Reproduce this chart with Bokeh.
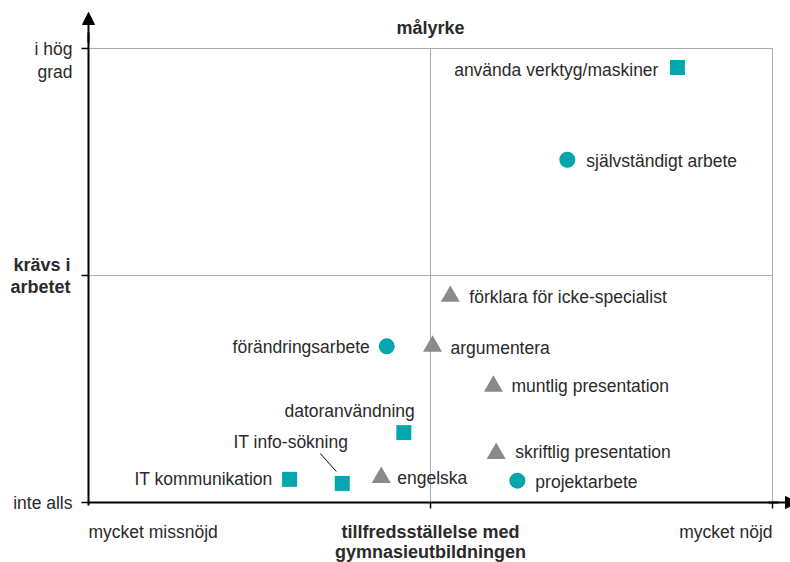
from bokeh.plotting import figure
from bokeh.models import Range1d, Arrow, NormalHead, ColumnDataSource
from bokeh.core.properties import value
from bokeh.embed import file_html
from bokeh.resources import INLINE

# ---- data ----
names = ["använda verktyg/maskiner", "självständigt arbete", "förklara för icke-specialist",
         "förändringsarbete", "argumentera", "muntlig presentation", "datoranvändning",
         "IT info-sökning", "skriftlig presentation", "IT kommunikation", "engelska", "projektarbete"]
satisfaction = [8.61, 7.00, 5.29, 4.36, 5.03, 5.92, 4.61, 3.71, 5.96, 2.94, 4.28, 6.27]
required = [9.58, 7.55, 4.54, 3.44, 3.44, 2.56, 1.54, 0.42, 1.08, 0.51, 0.55, 0.48]
group = ["square", "circle", "triangle", "circle", "triangle", "triangle", "square",
         "square", "triangle", "square", "triangle", "circle"]
y_ticks = [0, 5, 10]
x_ticks = [0, 5, 10]
title_top = "målyrke"
x_title = ["tillfredsställelse med", "gymnasieutbildningen"]
y_title = ["krävs i", "arbetet"]
x_low, x_high = "mycket missnöjd", "mycket nöjd"
y_low, y_high = "inte alls", ["i hög", "grad"]

# ---- layout ----
W, H = 790, 562
X0, Y0 = 88, 502          # px (from left / from top) of data origin
SX, SY = 68.4, 45.4       # px per unit
xr = Range1d(-X0 / SX, (W - X0) / SX)
yr = Range1d(-(H - Y0) / SY, Y0 / SY)

p = figure(width=W, height=H, x_range=xr, y_range=yr, output_backend="svg",
           toolbar_location=None, min_border=0)
p.axis.visible = False
p.grid.visible = False
p.outline_line_color = None

def px(dx):
    return dx / SX

def py(dy):
    return dy / SY

FONT = value("Liberation Sans")
FS = "17.5px"
FSB = "18px"
TC = "#2a2a2a"
GRID = "#ababab"

# grid / box
p.segment(x0=[x_ticks[0], x_ticks[0]], y0=[y_ticks[2], y_ticks[1]],
          x1=[x_ticks[2], x_ticks[2]], y1=[y_ticks[2], y_ticks[1]], line_color=GRID, line_width=1)
p.segment(x0=[x_ticks[1], x_ticks[2]], y0=[y_ticks[0], y_ticks[0]],
          x1=[x_ticks[1], x_ticks[2]], y1=[y_ticks[2], y_ticks[2]], line_color=GRID, line_width=1)

# axes
p.segment(x0=[0], y0=[-py(3)], x1=[0], y1=[py(470)], line_color="black", line_width=2)
p.segment(x0=[0], y0=[0], x1=[px(690)], y1=[0], line_color="black", line_width=2)
p.add_layout(Arrow(end=NormalHead(size=12, fill_color="black", line_color="black"),
                   x_start=0, y_start=py(460), x_end=0, y_end=py(490),
                   line_color="black", line_width=2))
p.add_layout(Arrow(end=NormalHead(size=12, fill_color="black", line_color="black"),
                   x_start=px(680), y_start=0, x_end=px(709), y_end=0,
                   line_color="black", line_width=2))
# ticks
p.segment(x0=[-px(7)] * 3, y0=y_ticks, x1=[0] * 3, y1=y_ticks, line_color="black", line_width=1.5)
p.segment(x0=x_ticks[1:], y0=[0, 0], x1=x_ticks[1:], y1=[-py(6)] * 2, line_color="black", line_width=1.5)

# axis texts
p.text(x=[5], y=[10 + py(21)], text=[title_top], text_font=FONT, text_font_style="bold",
       text_font_size=FSB, text_align="center", text_baseline="middle", text_color=TC)
p.text(x=[-px(16)] * 2, y=[10, 10 - py(23)], text=y_high, text_font=FONT, text_font_size=FS,
       text_align="right", text_baseline="middle", text_color=TC)
p.text(x=[-px(18)] * 2, y=[5 + py(11), 5 - py(11)], text=y_title, text_font=FONT,
       text_font_style="bold", text_font_size=FSB, text_align="right",
       text_baseline="middle", text_color=TC)
p.text(x=[-px(16)], y=[0], text=[y_low], text_font=FONT, text_font_size=FS,
       text_align="right", text_baseline="middle", text_color=TC)
p.text(x=[0], y=[-py(29)], text=[x_low], text_font=FONT, text_font_size=FS,
       text_align="left", text_baseline="middle", text_color=TC)
p.text(x=[10], y=[-py(29)], text=[x_high], text_font=FONT, text_font_size=FS,
       text_align="right", text_baseline="middle", text_color=TC)
p.text(x=[5, 5], y=[-py(29), -py(49)], text=x_title, text_font=FONT, text_font_style="bold",
       text_font_size=FSB, text_align="center", text_baseline="middle", text_color=TC)

# markers
TEAL = "#00a8ae"
GREY = "#8a8a8a"
styles = {"square": (TEAL, 15), "circle": (TEAL, 16), "triangle": (GREY, 19)}
for shape, (col, size) in styles.items():
    idx = [i for i, g in enumerate(group) if g == shape]
    src = ColumnDataSource(dict(x=[satisfaction[i] for i in idx], y=[required[i] for i in idx]))
    p.scatter("x", "y", source=src, marker=shape, size=size, fill_color=col, line_color=col,
              line_width=0)

# point labels (offset in px, alignment)
label_pos = {
    "använda verktyg/maskiner": (-19, 2, "right"),
    "självständigt arbete": (19, 1, "left"),
    "förklara för icke-specialist": (19, 1, "left"),
    "förändringsarbete": (-17, 1, "right"),
    "argumentera": (18, 2, "left"),
    "muntlig presentation": (18, 0, "left"),
    "datoranvändning": (11, -22, "right"),
    "IT info-sökning": (6, -41, "right"),
    "skriftlig presentation": (19, -1, "left"),
    "IT kommunikation": (-17, 0, "right"),
    "engelska": (16, 0, "left"),
    "projektarbete": (18, 1, "left"),
}
for align in ("left", "right"):
    idx = [i for i, n in enumerate(names) if label_pos[n][2] == align]
    src = ColumnDataSource(dict(
        x=[satisfaction[i] + px(label_pos[names[i]][0]) for i in idx],
        y=[required[i] - py(label_pos[names[i]][1]) for i in idx],
        t=[names[i] for i in idx]))
    p.text("x", "y", text="t", source=src, text_font=FONT, text_font_size=FS,
           text_align=align, text_baseline="middle", text_color=TC)

# leader line for IT info-sökning
k = names.index("IT info-sökning")
p.segment(x0=[satisfaction[k] - px(22)], y0=[required[k] + py(30)],
          x1=[satisfaction[k] - px(6)], y1=[required[k] + py(12)], line_color="black", line_width=1)

open("out.html", "w").write(file_html(p, INLINE))
